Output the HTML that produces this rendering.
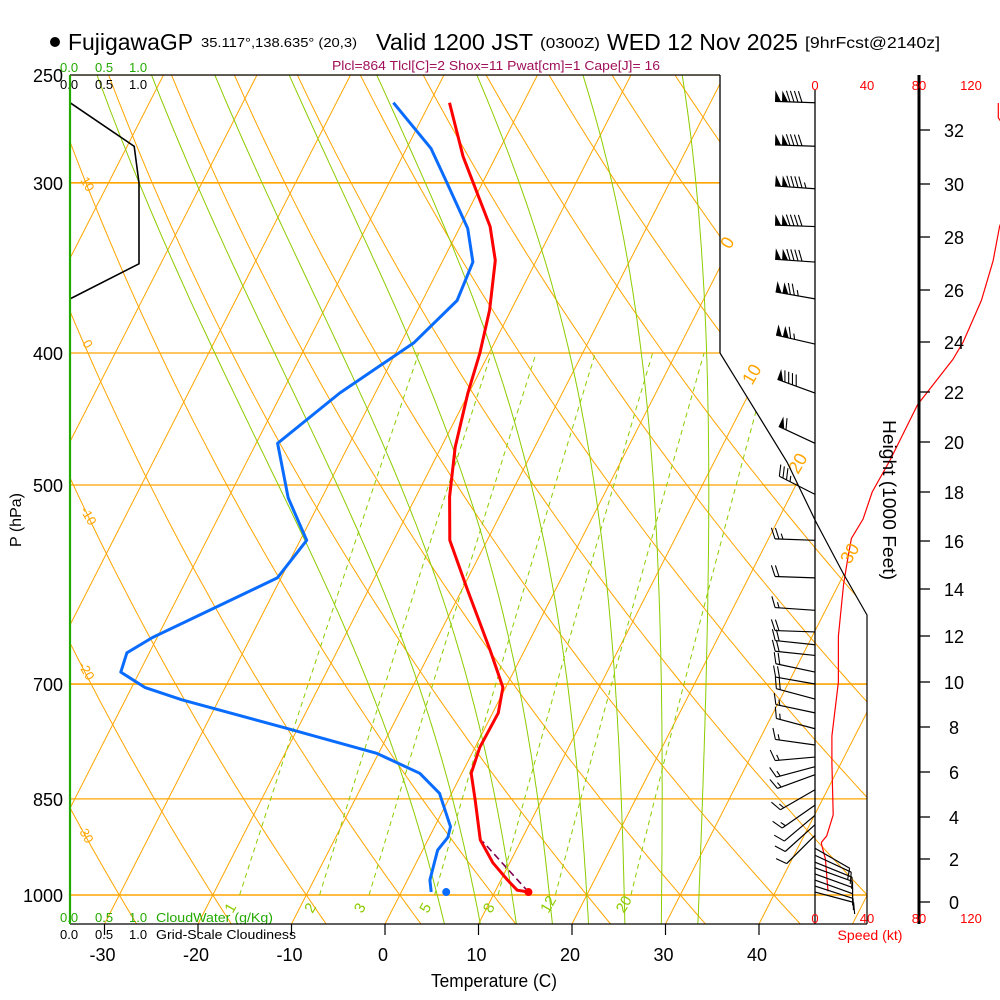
<!DOCTYPE html>
<html><head><meta charset="utf-8"><style>
html,body{margin:0;padding:0;background:#fff;}
svg{display:block;font-family:"Liberation Sans",sans-serif;}
</style></head><body>
<svg id="chart" width="1000" height="1000" viewBox="0 0 1000 1000">
<defs><clipPath id="plotclip"><polygon points="70,75 720,75 720,353 787,462 816,522 843,573 867,615 867,924 70,924"/></clipPath></defs>
<g id="grid" clip-path="url(#plotclip)"></g>
<g id="marks"></g>
<g id="labels">
  <circle cx="55" cy="42" r="5" fill="#000"/>
  <text x="68" y="50" font-size="23" textLength="125" lengthAdjust="spacingAndGlyphs">FujigawaGP</text>
  <text x="201" y="47" font-size="13" textLength="156" lengthAdjust="spacingAndGlyphs">35.117°,138.635° (20,3)</text>
  <text x="376" y="50" font-size="23" textLength="157" lengthAdjust="spacingAndGlyphs">Valid 1200 JST</text>
  <text x="540" y="48" font-size="15" textLength="60" lengthAdjust="spacingAndGlyphs">(0300Z)</text>
  <text x="607" y="50" font-size="23" textLength="191" lengthAdjust="spacingAndGlyphs">WED 12 Nov 2025</text>
  <text x="805" y="48" font-size="16" textLength="135" lengthAdjust="spacingAndGlyphs">[9hrFcst@2140z]</text>
  <text x="332" y="70" font-size="13" fill="#a0105a" textLength="328" lengthAdjust="spacingAndGlyphs">Plcl=864 Tlcl[C]=2 Shox=11 Pwat[cm]=1 Cape[J]= 16</text>
  <g fill="#22aa00" font-size="13">
    <text x="60" y="72">0.0</text><text x="95" y="72">0.5</text><text x="129" y="72">1.0</text></g>
  <g fill="#000" font-size="13">
    <text x="60" y="89">0.0</text><text x="95" y="89">0.5</text><text x="129" y="89">1.0</text></g>
  <g fill="#22aa00" font-size="13">
    <text x="60" y="922">0.0</text><text x="95" y="922">0.5</text><text x="129" y="922">1.0</text>
    <text x="156" y="922" textLength="117" lengthAdjust="spacingAndGlyphs">CloudWater (g/Kg)</text></g>
  <g fill="#000" font-size="13">
    <text x="60" y="939">0.0</text><text x="95" y="939">0.5</text><text x="129" y="939">1.0</text>
    <text x="156" y="939" textLength="140" lengthAdjust="spacingAndGlyphs">Grid-Scale Cloudiness</text></g>
  <text x="494" y="987" font-size="18" text-anchor="middle" textLength="126" lengthAdjust="spacingAndGlyphs">Temperature (C)</text>
  <text transform="translate(21,520) rotate(-90)" font-size="16" text-anchor="middle">P (hPa)</text>
  <text transform="translate(883,500) rotate(90)" font-size="18" text-anchor="middle" textLength="160" lengthAdjust="spacingAndGlyphs">Height (1000 Feet)</text>
  <text x="870" y="940" font-size="14" fill="#f00" text-anchor="middle" textLength="65" lengthAdjust="spacingAndGlyphs">Speed (kt)</text>
</g>
</svg>
<script>
// ---- data ----
const presTicks = [250, 300, 400, 500, 700, 850, 1000];
const tempTicks = [-30, -20, -10, 0, 10, 20, 30, 40];
const heightTicks = [0,2,4,6,8,10,12,14,16,18,20,22,24,26,28,30,32];
const speedTicks = [0, 40, 80, 120];
const tempP = [262,287,323,342,372,400,428,469,510,549,597,661,704,735,779,814,852,911,947,975,992,995];
const tempT = [-37.9,-33.5,-26.8,-24.4,-22.3,-21.0,-20.1,-18.5,-16.4,-14.0,-9.4,-3.7,-0.3,0.6,0.5,1.0,2.9,5.6,8.2,10.7,12.3,13.6];
const dewP = [262,283,300,324,343,366,393,428,466,511,549,585,647,664,686,704,719,753,787,814,842,891,907,927,975,995];
const dewT = [-43.9,-37.4,-33.8,-29.1,-26.7,-26.3,-28.6,-33.8,-37.7,-33.6,-29.3,-30.4,-40.5,-42.4,-42.0,-38.6,-33.9,-21.7,-10.2,-4.5,-1.3,1.7,2.0,1.6,2.4,3.2];
const sfcP = 995, sfcT = 13.6, sfcTd = 4.8;
const parcelP = [995, 914];
const parcelT = [13.6, 6.0];
const cloudP = [250, 262, 282, 300, 344, 365, 1000];
const cloudFrac = [0, 0, 0.93, 1.0, 1.0, 0, 0];
const windP = [262,282,303,323,343,365,394,428,466,508,549,585,618,641,655,667,686,700,718,735,755,776,792,805,816,837,859,874,888,904,924,935,946,955,965,975,985,995];
const windDir = [272,272,274,272,274,280,283,290,295,297,272,272,274,272,276,276,282,280,285,282,285,278,265,255,250,240,235,230,228,225,120,115,112,110,110,110,108,105];
const windSpd = [140,140,145,140,140,125,115,90,60,35,25,20,15,20,20,20,20,18,18,15,15,15,15,15,15,15,15,12,10,10,8,8,10,10,10,12,12,12];
const speedHeight = [33.0,32.45,31.5,30.0,28.4,27.1,25.6,24.0,23.3,21.5,19.3,18.0,16.9,16.1,15.2,14.2,12.0,10.0,7.6,6.4,4.1,3.1,2.8,2.7,2.0,0.5];
const speedKt = [141,141,155,155,142,137,128,114,106,79,58,44,37,28,25,22,18,18,13,13,14,9,5,5,8,10];
const dryTheta = [-40,-30,-20,-10,0,10,20,30,40,50,60,70,80,90,100,110,120,130,140,150,160,170,180,190,200];
const isoT = [-130,-120,-110,-100,-90,-80,-70,-60,-50,-40,-30,-20,-10,0,10,20,30,40,50];
const moistThw = [4,8,12,16,20,24,28,32];
const mixW = [1,2,3,5,8,12,20];

// ---- axes ----
const NS = "http://www.w3.org/2000/svg";
function yP(p){ return 895 - 591.5*Math.log(1000/p); }
function xT(T,p){ return 385 + 9.35*T + 0.51*(924 - yP(p)); }
const hTickY = [902,859,817,772,727,682,636,589,541,492,442,392,342,290,237,184,130];
function yH(h){
  if (h <= heightTicks[0]) return hTickY[0] + (h-heightTicks[0])*(hTickY[1]-hTickY[0])/2;
  for (let i=0;i<heightTicks.length-1;i++){
    if (h <= heightTicks[i+1]) return hTickY[i] + (h-heightTicks[i])*(hTickY[i+1]-hTickY[i])/(heightTicks[i+1]-heightTicks[i]);
  }
  const n=heightTicks.length-1; return hTickY[n] + (h-heightTicks[n])*(hTickY[n]-hTickY[n-1])/2;
}
function xS(s){ return 815 + 1.3*s; }

const grid = document.getElementById('grid');
const marks = document.getElementById('marks');
const labels = document.getElementById('labels');
function mk(tag, attrs, parent){
  const e = document.createElementNS(NS, tag);
  for (const k in attrs) e.setAttribute(k, attrs[k]);
  parent.appendChild(e); return e;
}
function pts(arr){ return arr.map(a=>a[0].toFixed(1)+','+a[1].toFixed(1)).join(' '); }

// isobars
for (const p of presTicks){
  const xr = p<=400 ? 720 : (p<=500 ? 800 : 867);
  const l = mk('line',{x1:70,y1:yP(p),x2:xr,y2:yP(p),stroke:'#ffa500','stroke-width':(p==300||p==700||p==1000)?1.6:1.2},grid);
  
  
}
// isotherms
for (const T of isoT){
  const l = mk('line',{x1:xT(T,1060),y1:yP(1060),x2:xT(T,240),y2:yP(240),stroke:'#ffa500','stroke-width':1},grid);
  
  
}
// dry adiabats
for (const th of dryTheta){
  const a=[];
  for (let p=1060;p>=240;p-=10){ const T=(th+273.15)*Math.pow(p/1000,0.2857)-273.15; a.push([xT(T,p),yP(p)]); }
  const l = mk('polyline',{points:pts(a),fill:'none',stroke:'#ffa500','stroke-width':1},grid);
  
  
}
// moist adiabats
function dTdp(T,p){
  const Rd=287,cp=1004,Lv=2.5e6,eps=0.622;
  const Tc=T-273.15, es=6.112*Math.exp(17.67*Tc/(Tc+243.5)), rs=eps*es/(p-es);
  return (Rd*T+Lv*rs)/(p*(cp+Lv*Lv*rs*eps/(Rd*T*T)));
}
for (const tw of moistThw){
  const up=[]; let T=tw+273.15;
  for (let p=1000;p>=240;p-=5){ up.push([xT(T-273.15,p),yP(p)]); T -= 5*dTdp(T,p); }
  const dn=[]; T=tw+273.15;
  for (let p=1000;p<=1060;p+=5){ dn.unshift([xT(T-273.15,p),yP(p)]); T += 5*dTdp(T,p); }
  const l = mk('polyline',{points:pts(dn.concat(up)),fill:'none',stroke:'#8ccc00','stroke-width':1},grid);
  
  
}
// mixing ratio lines
for (const w of mixW){
  const a=[];
  for (let p=1000;p>=400;p-=10){ const e=w*p/(622+w), L=Math.log(e/6.112), Td=243.5*L/(17.67-L); a.push([xT(Td,p),yP(p)]); }
  const l = mk('polyline',{points:pts(a),fill:'none',stroke:'#8ccc00','stroke-width':1,'stroke-dasharray':'5,4'},grid);
  
  
  const e=w*1000/(622+w), L=Math.log(e/6.112), Td=243.5*L/(17.67-L);
  const lx = xT(Td,1000)-7;
  const t = mk('text',{x:lx,y:914,'font-size':15,fill:'#8ccc00',transform:'rotate(-60 '+lx+' 914)'},labels);
  t.textContent = w;
  
  
}
// dry adiabat labels (left) and isotherm labels (right)
const thLbl = [[10,80,180],[0,82,343],[-10,80,510],[-20,78,665],[-30,77,828]];
for (const d of thLbl){
  const t = mk('text',{x:d[1],y:d[2],'font-size':13,fill:'#ffa500',transform:'rotate(60 '+d[1]+' '+d[2]+')'},labels);
  t.textContent = d[0];
  
  
}
const tLbl = [[0,730,250],[10,752,386],[20,798,475],[30,850,565]];
for (const d of tLbl){
  const t = mk('text',{x:d[1],y:d[2],'font-size':18,fill:'#ffa500',transform:'rotate(-60 '+d[1]+' '+d[2]+')'},labels);
  t.textContent = d[0];
  
  
}

// frame
function ln(x1,y1,x2,y2,c,w,name){
  const l = mk('line',{x1:x1,y1:y1,x2:x2,y2:y2,stroke:c,'stroke-width':w},labels);
  
  
  return l;
}
ln(70,75,720,75,'#000',1.3,'frame-top');
ln(720,75,720,353,'#000',1.3,'frame-right');
const fr = mk('polyline',{points:'720,353 787,462 816,522 843,573 867,615 867,924',fill:'none',stroke:'#000','stroke-width':1.2},labels);


ln(70,924,867,924,'#000',1.3,'frame-bottom');
ln(815,90,815,924,'#000',1.3,'wind-zero-line');
ln(919,75,919,924,'#000',3,'height-axis-line');

// pressure labels
for (const p of presTicks){
  const t = mk('text',{x:63,y:yP(p)+7,'font-size':18,'text-anchor':'end'},labels);
  t.textContent = p;
  
  
}
// temp ticks
for (const T of tempTicks){
  const x = 385 + 9.35*T;
  ln(x,924,x,935,'#000',1.2,'x-tick');
  const t = mk('text',{x:x-2,y:961,'font-size':18,'text-anchor':'middle'},labels);
  t.textContent = T;
  
  
}
// height ticks
heightTicks.forEach(h=>{
  const y=yH(h);
  ln(919,y,930,y,'#000',1.3,'height-tick');
  const t = mk('text',{x:954,y:y+7,'font-size':18,'text-anchor':'middle'},labels);
  t.textContent = h;
  
  
});
// speed tick labels
for (const s of speedTicks){
  for (const yy of [90,923]){
    const t = mk('text',{x:xS(s),y:yy,'font-size':13,fill:'#f00','text-anchor':'middle'},labels);
    t.textContent = s;
    
    
  }
}

// cloudwater zero line (green left border)
ln(70,75,70,924,'#22aa00',2.2,'cloudwater-profile');
// cloudiness
const cl = mk('polyline',{points:pts(cloudP.map((p,i)=>[70+69*cloudFrac[i],yP(p)])),fill:'none',stroke:'#000','stroke-width':1.6},marks);



// temperature & dewpoint
const tl = mk('polyline',{points:pts(tempP.map((p,i)=>[xT(tempT[i],p),yP(p)])),fill:'none',stroke:'#ff0000','stroke-width':3,'stroke-linejoin':'round'},marks);


const dl = mk('polyline',{points:pts(dewP.map((p,i)=>[xT(dewT[i],p),yP(p)])),fill:'none',stroke:'#0a6cff','stroke-width':3,'stroke-linejoin':'round'},marks);


const pl = mk('polyline',{points:pts(parcelP.map((p,i)=>[xT(parcelT[i],p),yP(p)])),fill:'none',stroke:'#800050','stroke-width':1.6,'stroke-dasharray':'7,4'},marks);


const sd = mk('circle',{cx:xT(sfcT,sfcP),cy:yP(sfcP),r:4,fill:'#ff0000'},marks);


const sdd = mk('circle',{cx:xT(sfcTd,sfcP),cy:yP(sfcP),r:4,fill:'#0a6cff'},marks);



// wind speed profile
const sp = mk('polyline',{points:pts(speedHeight.map((h,i)=>[xS(speedKt[i]),yH(h)])),fill:'none',stroke:'#ff0000','stroke-width':1.2},marks);



// wind barbs
windP.forEach((p,i)=>{
  const g = mk('g',{},marks);
  
  
  const d = windDir[i]*Math.PI/180, ux=Math.sin(d), uy=-Math.cos(d);
  const ax=815, ay=yP(p), L=40;
  const tx=ax+ux*L, ty=ay+uy*L;
  mk('line',{x1:ax,y1:ay,x2:tx,y2:ty,stroke:'#000','stroke-width':1.2},g);
  const nx=-uy, ny=ux, F=11;
  let s=windSpd[i], pos=0;
  const P=(q)=>[tx-ux*q, ty-uy*q];
  while (s>=48){
    const a=P(pos), b=P(pos+6);
    mk('polygon',{points:pts([a,[a[0]+nx*F,a[1]+ny*F],b]),fill:'#000'},g);
    pos+=7; s-=50;
  }
  if (pos>0) pos+=1;
  while (s>=8){
    const a=P(pos);
    mk('line',{x1:a[0],y1:a[1],x2:a[0]+nx*F+ux*4,y2:a[1]+ny*F+uy*4,stroke:'#000','stroke-width':1.1},g);
    pos+=4; s-=10;
  }
  if (s>=3){
    const a=P(pos+(pos==0?4:0));
    mk('line',{x1:a[0],y1:a[1],x2:a[0]+nx*F/2+ux*2,y2:a[1]+ny*F/2+uy*2,stroke:'#000','stroke-width':1.1},g);
  }
});
</script>
</body></html>
